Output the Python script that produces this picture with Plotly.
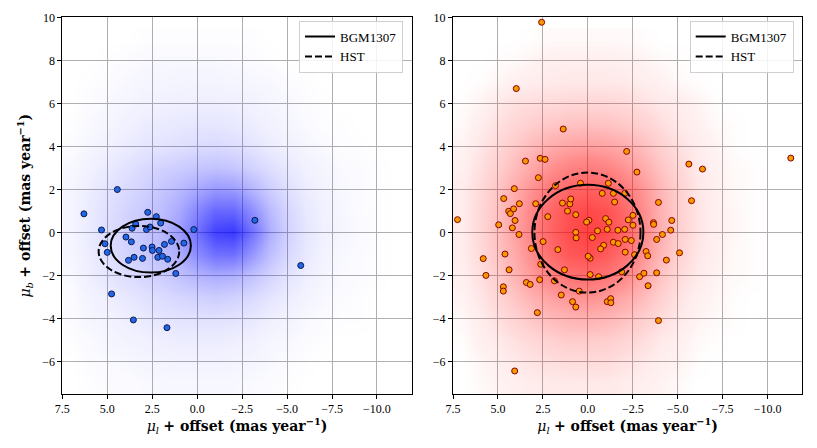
import plotly.graph_objects as go

# ---------------- data ----------------
# density grid (cell centres, mas/yr) for the field-star clouds
GRID_MU_L = [7, 6, 5, 4, 3, 2, 1, 0, -1, -2, -3, -4, -5, -6, -7, -8, -9, -10, -11]
GRID_MU_B = [9, 8, 7, 6, 5, 4, 3, 2, 1, 0, -1, -2, -3, -4, -5, -6, -7]

BLUE_DENSITY = [
    [0, 0, 0, 0, 0.05, 0.05, 0.05, 0.05, 0.05, 0.05, 0.05, 0, 0, 0, 0, 0, 0, 0, 0],
    [0, 0, 0.05, 0.1, 0.15, 0.2, 0.2, 0.2, 0.2, 0.15, 0.1, 0.05, 0, 0, 0, 0, 0, 0, 0],
    [0, 0.05, 0.1, 0.2, 0.3, 0.3, 0.35, 0.35, 0.35, 0.3, 0.25, 0.2, 0.1, 0.05, 0, 0, 0, 0, 0],
    [0, 0.1, 0.2, 0.3, 0.45, 0.5, 0.55, 0.6, 0.6, 0.55, 0.45, 0.3, 0.2, 0.1, 0.05, 0, 0, 0, 0],
    [0.05, 0.2, 0.3, 0.5, 0.7, 0.8, 0.9, 1.0, 1.0, 0.9, 0.7, 0.5, 0.3, 0.15, 0.05, 0.05, 0, 0, 0],
    [0.1, 0.3, 0.5, 0.7, 1.0, 1.1, 1.3, 1.5, 1.6, 1.4, 1.1, 0.7, 0.5, 0.3, 0.15, 0.05, 0.05, 0, 0],
    [0.2, 0.5, 0.8, 1.2, 1.6, 2.0, 2.3, 2.6, 2.8, 2.6, 2.0, 1.4, 0.9, 0.5, 0.3, 0.15, 0.1, 0.05, 0],
    [0.3, 0.7, 1.1, 1.6, 2.0, 2.6, 3.2, 4.0, 4.8, 4.6, 3.4, 2.2, 1.3, 0.7, 0.4, 0.2, 0.1, 0.05, 0],
    [0.3, 0.8, 1.3, 1.9, 2.4, 3.0, 4.0, 5.8, 7.5, 7.5, 5.5, 3.2, 1.8, 0.9, 0.5, 0.25, 0.1, 0.05, 0],
    [0.3, 0.8, 1.4, 2.0, 2.6, 3.2, 4.6, 7.0, 9.5, 10, 7.0, 3.8, 2.0, 1.0, 0.5, 0.3, 0.15, 0.05, 0],
    [0.3, 0.7, 1.3, 1.9, 2.4, 3.0, 3.8, 5.5, 7.0, 7.0, 5.0, 3.0, 1.7, 0.9, 0.4, 0.2, 0.1, 0.05, 0],
    [0.2, 0.6, 1.0, 1.4, 1.8, 2.2, 2.8, 3.4, 3.8, 3.6, 2.8, 1.9, 1.1, 0.6, 0.3, 0.15, 0.1, 0.05, 0],
    [0.1, 0.4, 0.6, 0.9, 1.2, 1.5, 1.8, 2.0, 2.2, 2.0, 1.6, 1.1, 0.7, 0.4, 0.2, 0.1, 0.05, 0, 0],
    [0.1, 0.3, 0.4, 0.6, 0.8, 1.0, 1.1, 1.2, 1.2, 1.1, 0.9, 0.6, 0.4, 0.2, 0.1, 0.05, 0.05, 0, 0],
    [0.05, 0.15, 0.3, 0.4, 0.5, 0.6, 0.7, 0.7, 0.7, 0.6, 0.5, 0.3, 0.2, 0.1, 0.05, 0, 0, 0, 0],
    [0, 0.1, 0.15, 0.2, 0.3, 0.35, 0.4, 0.4, 0.4, 0.35, 0.3, 0.2, 0.1, 0.05, 0, 0, 0, 0, 0],
    [0, 0.05, 0.1, 0.1, 0.15, 0.2, 0.2, 0.2, 0.2, 0.2, 0.15, 0.1, 0.05, 0, 0, 0, 0, 0, 0],
]

RED_DENSITY = [
    [0, 0, 0, 0, 0.05, 0.1, 0.1, 0.1, 0.1, 0.1, 0.05, 0, 0, 0, 0, 0, 0, 0, 0],
    [0, 0, 0.05, 0.1, 0.2, 0.3, 0.3, 0.3, 0.3, 0.25, 0.2, 0.1, 0.05, 0, 0, 0, 0, 0, 0],
    [0, 0.05, 0.15, 0.3, 0.4, 0.5, 0.55, 0.55, 0.55, 0.5, 0.35, 0.25, 0.1, 0.05, 0, 0, 0, 0, 0],
    [0.05, 0.2, 0.5, 0.8, 0.9, 1.0, 1.1, 1.1, 1.1, 1.0, 0.8, 0.5, 0.4, 0.2, 0.05, 0, 0, 0, 0],
    [0.1, 0.4, 0.8, 1.2, 1.6, 1.9, 2.1, 2.2, 2.1, 1.8, 1.4, 0.9, 0.5, 0.3, 0.1, 0.05, 0, 0, 0],
    [0.2, 0.6, 1.1, 1.8, 2.5, 3.2, 3.6, 3.8, 3.6, 3.1, 2.3, 1.4, 0.8, 0.4, 0.2, 0.05, 0, 0, 0],
    [0.3, 0.8, 1.5, 2.5, 3.6, 4.8, 5.6, 6.0, 5.6, 4.6, 3.3, 2.0, 1.1, 0.5, 0.25, 0.1, 0.05, 0, 0],
    [0.4, 1.0, 1.9, 3.2, 4.8, 6.4, 7.6, 8.0, 7.6, 6.2, 4.4, 2.6, 1.4, 0.6, 0.3, 0.1, 0.05, 0, 0],
    [0.4, 1.1, 2.1, 3.6, 5.6, 7.6, 9.0, 9.6, 9.0, 7.4, 5.0, 2.9, 1.5, 0.7, 0.3, 0.15, 0.05, 0, 0],
    [0.4, 1.1, 2.2, 3.8, 5.8, 7.8, 9.4, 10, 9.4, 7.6, 5.1, 3.0, 1.5, 0.7, 0.3, 0.15, 0.05, 0, 0],
    [0.4, 1.0, 2.0, 3.4, 5.2, 7.2, 8.6, 9.0, 8.4, 6.8, 4.6, 2.6, 1.3, 0.6, 0.3, 0.1, 0.05, 0, 0],
    [0.3, 0.8, 1.6, 2.8, 4.2, 5.6, 6.6, 7.0, 6.4, 5.2, 3.5, 2.0, 1.0, 0.5, 0.2, 0.1, 0.05, 0, 0],
    [0.2, 0.6, 1.2, 2.0, 3.0, 3.8, 4.4, 4.6, 4.2, 3.4, 2.4, 1.4, 0.7, 0.3, 0.15, 0.05, 0, 0, 0],
    [0.1, 0.4, 0.8, 1.3, 1.9, 2.4, 2.7, 2.8, 2.6, 2.1, 1.5, 0.9, 0.5, 0.2, 0.1, 0.05, 0, 0, 0],
    [0.05, 0.3, 0.5, 0.8, 1.1, 1.4, 1.6, 1.6, 1.5, 1.2, 0.9, 0.5, 0.3, 0.1, 0.05, 0, 0, 0, 0],
    [0, 0.15, 0.3, 0.5, 0.7, 0.8, 0.9, 0.9, 0.9, 0.7, 0.5, 0.3, 0.2, 0.05, 0, 0, 0, 0, 0],
    [0, 0.1, 0.2, 0.3, 0.4, 0.5, 0.5, 0.5, 0.5, 0.4, 0.3, 0.2, 0.1, 0, 0, 0, 0, 0, 0],
]

# highlighted members, left panel
BLUE_MU_L = [6.30, 4.44, 2.75, 2.27, 3.42, 3.62, 2.82, 2.03, 2.62, 5.32, 0.19, 3.96,
             3.66, 5.13, 1.43, 1.82, 0.74, 2.99, 2.51, 2.49, 2.12, 5.00, 3.51, 3.82,
             3.04, 2.19, 1.93, 1.64, 1.19, 4.76, 3.55, 1.68, -5.76, -3.21]
BLUE_MU_B = [0.87, 2.00, 0.94, 0.74, 0.40, 0.20, 0.14, 0.44, 0.26, 0.12, 0.14, -0.21,
             -0.43, -0.52, -0.41, -0.55, -0.49, -0.72, -0.67, -0.83, -0.83, -0.92, -1.15, -1.29,
             -1.20, -1.15, -1.10, -1.24, -1.90, -2.85, -4.06, -4.42, -1.53, 0.57]

# highlighted members, right panel
RED_MU_L = [2.57, 3.98, 1.37, -2.16, -11.29, 3.47, 2.65, 2.38, -5.62, -6.38, -2.73, 2.75,
            4.09, 0.41, -1.14, 1.80, 4.68, 3.81, 2.90, 1.41, 1.00, 0.95, -0.80, -1.42,
            -2.06, -1.49, -3.93, -5.77, 4.40, 4.13, 4.31, 4.05, 7.25, 2.23, 1.13, 0.67,
            -0.06, 0.07, -0.99, -1.17, -2.25, -2.51, -3.65, -4.67, 4.96, 4.20, 3.83, 5.82,
            4.61, 5.67, 4.38, 2.49, 3.14, 1.67, 0.67, 0.65, -0.25, -0.54, -1.08, -1.67,
            -2.05, -2.51, -3.66, -4.61, -4.15, -3.83, -2.08, -2.42, -1.42, -1.69, -0.88, -0.71,
            -2.08, -0.13, -0.02, -3.24, -3.33, -5.10, -4.37, -2.60, 2.62, 1.30, 1.86, 2.68,
            -0.13, -0.60, -1.88, -2.88, -3.12, -3.83, -3.35, 3.42, 3.21, 4.70, 4.70, 1.48,
            0.48, 0.85, 0.67, -1.08, -1.27, -1.28, 2.81, -3.93, 4.07]
RED_MU_B = [9.77, 6.69, 4.81, 3.77, 3.46, 3.32, 3.45, 3.40, 3.18, 2.95, 2.81, 2.55,
            2.04, 2.29, 2.29, 2.18, 1.58, 1.34, 1.34, 1.37, 1.33, 1.56, 1.82, 1.82,
            1.83, 1.42, 1.40, 1.48, 0.99, 1.10, 0.88, 0.56, 0.60, 0.74, 1.00, 0.83,
            0.57, 0.49, 0.65, 0.48, 0.59, 0.80, 0.46, 0.56, 0.36, 0.22, -0.09, -1.21,
            -1.00, -1.99, -1.73, -0.42, -0.74, -0.79, 0.01, -0.25, -0.23, 0.08, 0.15, 0.11,
            0.15, 0.34, 0.38, 0.11, -0.09, -0.32, -0.32, -0.37, -0.45, -0.51, -0.59, -0.76,
            -0.91, -1.19, -1.10, -0.88, -1.08, -0.94, -1.28, -1.03, -1.47, -1.73, -2.24, -2.19,
            -1.95, -2.05, -1.82, -2.05, -1.89, -1.87, -2.47, -2.32, -2.41, -2.52, -2.72, -2.90,
            -2.72, -3.21, -3.46, -3.21, -3.07, -3.26, -3.72, -4.09, -6.43]

# ellipses: [BGM1307, HST]
ELLIPSE_NAMES = ["BGM1307", "HST"]
LEFT_ELL_CX = [2.58, 3.24]
LEFT_ELL_CY = [-0.61, -0.88]
LEFT_ELL_A = [2.23, 2.24]
LEFT_ELL_B = [1.25, 1.19]
RIGHT_ELL_CX = [0.0, 0.02]
RIGHT_ELL_CY = [0.02, 0.0]
RIGHT_ELL_A = [3.09, 2.95]
RIGHT_ELL_B = [2.20, 2.79]

X_TICKS = [7.5, 5.0, 2.5, 0.0, -2.5, -5.0, -7.5, -10.0]
Y_TICKS = [-6, -4, -2, 0, 2, 4, 6, 8, 10]
X_RANGE = [7.5, -11.93]
Y_RANGE = [-7.5, 10]

# ---------------- styling ----------------
FONT = "Liberation Serif"
TITLE_FONT = "DejaVu Serif"
BLUE_SCALE = [[0, "rgba(0,0,255,0)"], [0.02, "rgba(0,0,255,0.03)"], [0.1, "rgba(0,0,255,0.10)"],
              [0.25, "rgba(0,0,255,0.22)"], [0.5, "rgba(0,0,255,0.42)"],
              [0.75, "rgba(0,0,255,0.6)"], [1, "rgba(0,0,255,0.78)"]]
RED_SCALE = [[0, "rgba(255,0,0,0)"], [0.02, "rgba(255,0,0,0.05)"], [0.1, "rgba(255,0,0,0.15)"],
             [0.25, "rgba(255,0,0,0.28)"], [0.5, "rgba(255,0,0,0.46)"],
             [0.75, "rgba(255,0,0,0.6)"], [1, "rgba(255,0,0,0.74)"]]
DASHES = ["solid", "7px,3px"]

fig = go.Figure()

panels = [
    ("x", "y", "legend", BLUE_DENSITY, BLUE_SCALE, BLUE_MU_L, BLUE_MU_B, "#2467e6", "#0a1850",
     LEFT_ELL_CX, LEFT_ELL_CY, LEFT_ELL_A, LEFT_ELL_B),
    ("x2", "y2", "legend2", RED_DENSITY, RED_SCALE, RED_MU_L, RED_MU_B, "#f59a00", "#8b0000",
     RIGHT_ELL_CX, RIGHT_ELL_CY, RIGHT_ELL_A, RIGHT_ELL_B),
]

for (xa, ya, leg, dens, scale, ml, mb, fill, edge, cx, cy, aa, bb) in panels:
    fig.add_trace(go.Heatmap(x=GRID_MU_L, y=GRID_MU_B, z=dens, xaxis=xa, yaxis=ya,
                             colorscale=scale, zmin=0, zmax=10, zsmooth="best",
                             showscale=False, hoverinfo="skip"))
    fig.add_trace(go.Scatter(x=ml, y=mb, xaxis=xa, yaxis=ya, mode="markers",
                             marker=dict(size=6, color=fill, line=dict(color=edge, width=1)),
                             showlegend=False))
    for i, name in enumerate(ELLIPSE_NAMES):
        fig.add_shape(type="circle", xref=xa, yref=ya,
                      x0=cx[i] - aa[i], x1=cx[i] + aa[i], y0=cy[i] - bb[i], y1=cy[i] + bb[i],
                      line=dict(color="black", width=2, dash=DASHES[i]), layer="above")
        fig.add_trace(go.Scatter(x=[None], y=[None], xaxis=xa, yaxis=ya, mode="lines",
                                 name=name, legend=leg,
                                 line=dict(color="black", width=2, dash=DASHES[i])))

axis_common = dict(range=X_RANGE, tickvals=X_TICKS,
                   ticktext=[f"{v:.1f}".replace("-", "\u2212") for v in X_TICKS],
                   showgrid=True, gridcolor="#b0b0b0", gridwidth=1, zeroline=False,
                   showline=True, mirror=True, linecolor="black", linewidth=1,
                   ticks="outside", ticklen=4, tickcolor="black",
                   tickfont=dict(family=FONT, size=12, color="black"), automargin=False)
yaxis_common = dict(range=Y_RANGE, tickvals=Y_TICKS, showgrid=True, gridcolor="#b0b0b0", gridwidth=1,
                    zeroline=False, showline=True, mirror=True, linecolor="black", linewidth=1,
                    ticks="outside", ticklen=4, tickcolor="black",
                    tickfont=dict(family=FONT, size=12, color="black"), automargin=False)

xtitle = "<i>μ</i><sub><i>l</i></sub> <b>+ offset (mas year</b><sup><b>−1</b></sup><b>)</b>"
ytitle = "<i>μ</i><sub><i>b</i></sub> <b>+ offset (mas year</b><sup><b>−1</b></sup><b>)</b>"
tfont = dict(family=TITLE_FONT, size=14, color="black")

legend_common = dict(xanchor="left", yanchor="top", bgcolor="rgba(255,255,255,0.85)",
                     bordercolor="#d0d0d0", borderwidth=1,
                     font=dict(family=FONT, size=13, color="black"),
                     itemwidth=30, tracegroupgap=0)

# the page body adds an 8px offset: domains are placed to compensate
fig.update_layout(
    width=817, height=448, margin=dict(l=0, r=0, t=0, b=0),
    paper_bgcolor="white", plot_bgcolor="white",
    xaxis=dict(domain=[0.0665, 0.4941], anchor="y",
               title=dict(text=xtitle, font=tfont, standoff=4), **axis_common),
    yaxis=dict(domain=[0.1384, 0.9792], anchor="x",
               title=dict(text=ytitle, font=tfont, standoff=8), **yaxis_common),
    xaxis2=dict(domain=[0.5447, 0.9722], anchor="y2",
                title=dict(text=xtitle, font=tfont, standoff=4), **axis_common),
    yaxis2=dict(domain=[0.1384, 0.9792], anchor="x2", **yaxis_common),
    legend=dict(x=0.3562, y=0.972, **legend_common),
    legend2=dict(x=0.8344, y=0.972, **legend_common),
)

fig.write_html("out.html")
